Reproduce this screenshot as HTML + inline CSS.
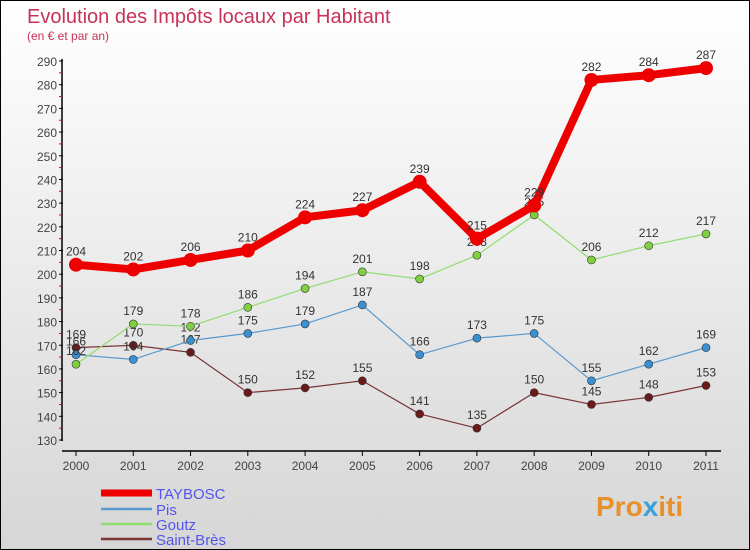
<!DOCTYPE html>
<html><head><meta charset="utf-8"><style>
body{margin:0}
#c{width:750px;height:550px;position:relative;box-sizing:border-box;border:1px solid #000;background:linear-gradient(#ffffff,#d6d6d6);font-family:"Liberation Sans",sans-serif;overflow:hidden}
</style></head><body>
<div id="c">
<svg id="s" width="750" height="550" style="position:absolute;left:0;top:0">
<text x="26" y="22" font-size="20" fill="#c8325a">Evolution des Impôts locaux par Habitant</text>
<text x="26" y="39" font-size="12" fill="#c8325a">(en € et par an)</text>
<g id="axes"></g><g id="series"></g>
<text x="595" y="515" font-size="28" font-weight="bold" fill="#e8902a">Pro<tspan fill="#3aa0d8">x</tspan>iti</text>
</svg>
</div>
<script>
const years=["2000","2001","2002","2003","2004","2005","2006","2007","2008","2009","2010","2011"];
const yTicks=[130,140,150,160,170,180,190,200,210,220,230,240,250,260,270,280,290];
const taybosc=[204,202,206,210,224,227,239,215,229,282,284,287];
const pis=[166,164,172,175,179,187,166,173,175,155,162,169];
const goutz=[162,179,178,186,194,201,198,208,225,206,212,217];
const saintBres=[169,170,167,150,152,155,141,135,150,145,148,153];
const NS="http://www.w3.org/2000/svg";
const X=i=>75+i*(630/11);
const Y=v=>439-(v-130)*(379/160);
function mk(t,a,p){const e=document.createElementNS(NS,t);for(const k in a)e.setAttribute(k,a[k]);p.appendChild(e);return e;}
const ax=document.getElementById('axes');
let l=mk('line',{x1:61,y1:58,x2:61,y2:440,stroke:'#000','stroke-width':1.5},ax);

l=mk('line',{x1:61,y1:450,x2:720,y2:450,stroke:'#000','stroke-width':1.5},ax);

yTicks.forEach((v,i)=>{
 mk('line',{x1:58,y1:Y(v),x2:62,y2:Y(v),stroke:'#000'},ax);
 if(i<yTicks.length-1)mk('line',{x1:58,y1:Y(v+5),x2:61,y2:Y(v+5),stroke:'#e00'},ax);
 const t=mk('text',{x:56,y:Y(v)+5,'text-anchor':'end','font-size':12,fill:'#444'},ax);t.textContent=v;
 
});
years.forEach((y,i)=>{
 mk('line',{x1:X(i),y1:450,x2:X(i),y2:455,stroke:'#000'},ax);
 const t=mk('text',{x:X(i),y:469,'text-anchor':'middle','font-size':12,fill:'#444'},ax);t.textContent=y;
 
});
const sg=document.getElementById('series');
function series(name,vals,col,w,r,fill,ly,lw){
 const g=mk('g',{},sg);
 mk('polyline',{points:vals.map((v,i)=>X(i)+','+Y(v)).join(' '),fill:'none',stroke:col,'stroke-width':w,'stroke-linejoin':'round'},g);
 vals.forEach((v,i)=>{
  const c=mk('circle',{cx:X(i),cy:Y(v),r:r,fill:fill,stroke:'#333','stroke-width':r>5?0:0.6},g);
  
  const t=mk('text',{x:X(i),y:Y(v)-9,'text-anchor':'middle','font-size':12,fill:'#333'},g);t.textContent=v;
  
 });
 const le=mk('g',{},sg);
 mk('line',{x1:100,y1:ly,x2:151,y2:ly,stroke:col,'stroke-width':lw},le);
 const t=mk('text',{x:155,y:ly+6,'font-size':15,fill:'#5555ee'},le);t.textContent=name==='taybosc'?'TAYBOSC':name==='pis'?'Pis':name==='goutz'?'Goutz':'Saint-Brès';
}
series('saint-bres',saintBres,'#7a3535',1.2,4,'#6a1a1a',538,2.5);
series('pis',pis,'#5a9ad0',1.2,4,'#3a90d0',508,2.5);
series('goutz',goutz,'#90dd70',1.2,4,'#80d040',523,2.5);
series('taybosc',taybosc,'#ee0000',8,7,'#ee0000',492,7);
</script>
</body></html>
